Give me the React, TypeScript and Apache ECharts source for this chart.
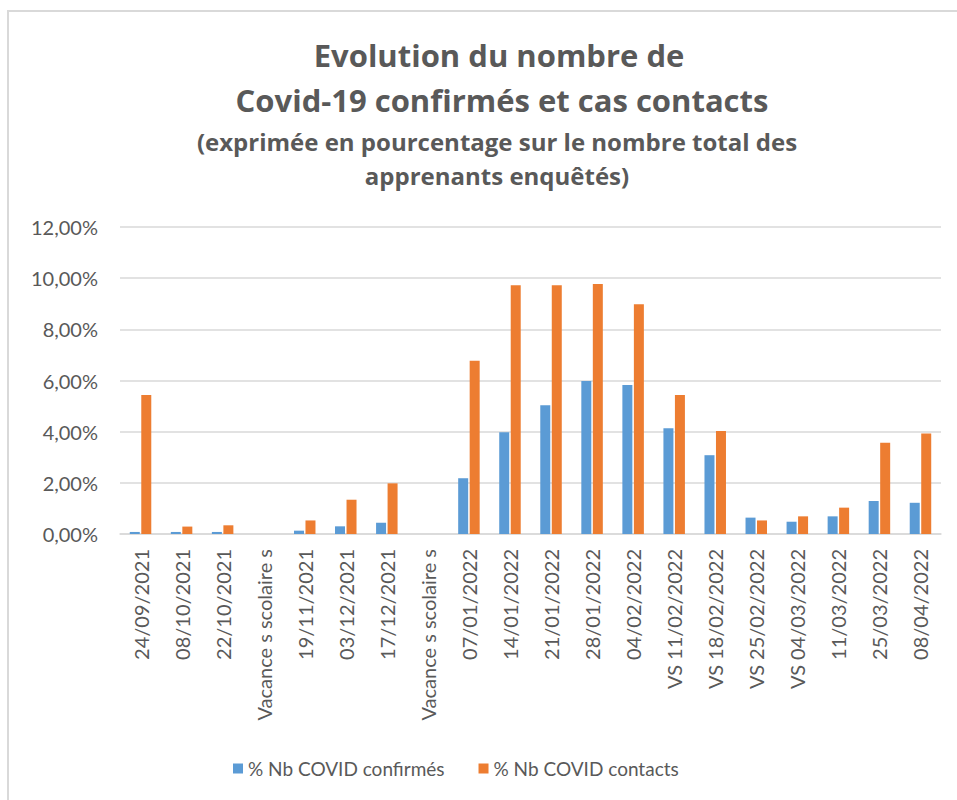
import React, { useEffect, useRef } from "react";
import * as echarts from "echarts";

const categories = [
  "24/09/2021", "08/10/2021", "22/10/2021", "Vacance s scolaire s", "19/11/2021",
  "03/12/2021", "17/12/2021", "Vacance s scolaire s", "07/01/2022", "14/01/2022",
  "21/01/2022", "28/01/2022", "04/02/2022", "VS 11/02/2022", "VS 18/02/2022",
  "VS 25/02/2022", "VS 04/03/2022", "11/03/2022", "25/03/2022", "08/04/2022",
];
const confirmes = [0.08, 0.08, 0.08, null, 0.13, 0.30, 0.44, null, 2.18, 3.98, 5.03, 5.98, 5.82, 4.13, 3.08, 0.64, 0.48, 0.69, 1.29, 1.22];
const contacts = [5.43, 0.29, 0.34, null, 0.53, 1.34, 1.98, null, 6.77, 9.72, 9.72, 9.77, 8.98, 5.43, 4.03, 0.53, 0.69, 1.03, 3.57, 3.93];
const seriesNames = ["% Nb COVID confirmés", "% Nb COVID contacts"];
const titleLines = ["Evolution du nombre de", "Covid-19 confirmés et cas contacts"];
const subtitleLines = ["(exprimée en pourcentage sur le nombre total des", "apprenants enquêtés)"];

const FONT = "Lato";
const TFONT = "Open Sans";
const TXT = "#595959";

export default function App() {
  const ref = useRef<HTMLDivElement>(null);
  useEffect(() => {
    const chart = echarts.init(ref.current!, null, { renderer: "svg" });
    const titleText = (text: string, x: number, y: number, size: number) => ({
      type: "text",
      x,
      y,
      style: {
        text,
        fill: TXT,
        font: `bold ${size}px "${TFONT}"`,
        textAlign: "center",
        textVerticalAlign: "middle",
      },
    });
    chart.setOption({
      animation: false,
      backgroundColor: "#fff",
      textStyle: { fontFamily: FONT },
      legend: {
        bottom: 17,
        left: 228,
        icon: "rect",
        itemWidth: 10,
        itemHeight: 10,
        itemGap: 34,
        textStyle: { fontFamily: FONT, fontSize: 19, color: TXT },
        data: seriesNames,
      },
      grid: { left: 120, right: 16, top: 227, bottom: 266 },
      xAxis: {
        type: "category",
        data: categories,
        axisLine: { lineStyle: { color: "#D9D9D9", width: 1.5 } },
        axisTick: { show: false },
        axisLabel: { rotate: 90, interval: 0, margin: 15, fontFamily: FONT, fontSize: 20, color: TXT },
      },
      yAxis: {
        type: "value",
        min: 0,
        max: 12,
        interval: 2,
        axisLine: { show: false },
        axisTick: { show: false },
        splitLine: { lineStyle: { color: "#D9D9D9", width: 1.5 } },
        axisLabel: {
          margin: 22,
          fontFamily: FONT,
          fontSize: 20,
          color: TXT,
          formatter: (v: number) => v.toFixed(2).replace(".", ",") + "%",
        },
      },
      series: [
        { name: seriesNames[0], type: "bar", data: confirmes, barWidth: 10, barGap: "15%", itemStyle: { color: "#5B9BD5" } },
        { name: seriesNames[1], type: "bar", data: contacts, barWidth: 10, barGap: "15%", itemStyle: { color: "#ED7D31" } },
      ],
      graphic: [
        { type: "line", shape: { x1: 8, y1: 10, x2: 8, y2: 800 }, style: { stroke: "#D9D9D9", lineWidth: 2 } },
        { type: "line", shape: { x1: 7, y1: 11, x2: 957, y2: 11 }, style: { stroke: "#D9D9D9", lineWidth: 2 } },
        titleText(titleLines[0], 499, 55, 31),
        titleText(titleLines[1], 502, 100, 31),
        titleText(subtitleLines[0], 497, 141, 24),
        titleText(subtitleLines[1], 497, 175, 24),
      ],
    });
    return () => chart.dispose();
  }, []);
  return <div ref={ref} style={{ position: "absolute", left: 0, top: 0, width: 957, height: 800 }} />;
}
